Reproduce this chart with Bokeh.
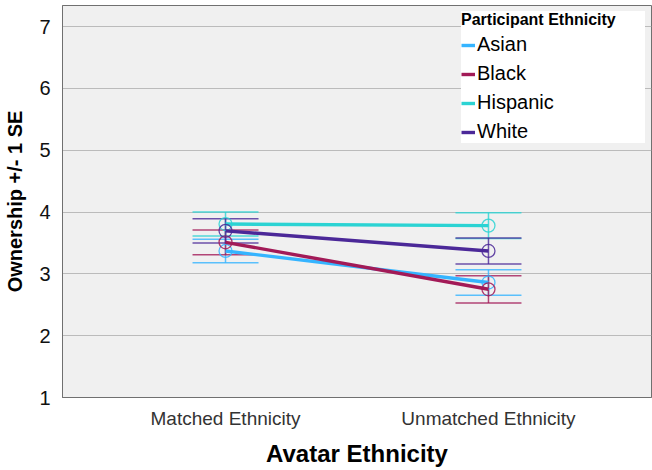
from bokeh.plotting import figure
from bokeh.models import (ColumnDataSource, FactorRange, Range1d, Whisker, TeeHead,
                          Legend, LegendItem, FixedTicker)
from bokeh.embed import file_html
from bokeh.resources import INLINE

# ---- data ----
categories = ["Matched Ethnicity", "Unmatched Ethnicity"]
groups = ["Asian", "Black", "Hispanic", "White"]
asian_mean = [3.37, 2.86]
asian_se = [0.19, 0.205]
black_mean = [3.51, 2.75]
black_se = [0.20, 0.22]
hispanic_mean = [3.805, 3.78]
hispanic_se = [0.195, 0.21]
white_mean = [3.695, 3.37]
white_se = [0.195, 0.21]
y_ticks = [1, 2, 3, 4, 5, 6, 7]

means = {"Asian": asian_mean, "Black": black_mean, "Hispanic": hispanic_mean, "White": white_mean}
ses = {"Asian": asian_se, "Black": black_se, "Hispanic": hispanic_se, "White": white_se}
colors = {"Asian": "#35B4FF", "Black": "#A21A57", "Hispanic": "#2BD3D3", "White": "#4B2898"}

FONT = "Liberation Sans"

p = figure(x_range=FactorRange(factors=categories, range_padding=0.12, range_padding_units="absolute"),
           y_range=Range1d(1, 7.34),
           width=652, height=470, output_backend="svg", toolbar_location=None,
           min_border_left=62, min_border_right=1, min_border_top=5, min_border_bottom=73)

p.background_fill_color = "#F0F0F0"
p.border_fill_color = "white"
p.outline_line_color = "#707070"
p.outline_line_width = 1

p.xgrid.grid_line_color = None
p.ygrid.grid_line_color = "#BBBBBB"
p.ygrid.grid_line_width = 1
p.yaxis.ticker = FixedTicker(ticks=y_ticks)

for ax in (p.xaxis[0], p.yaxis[0]):
    ax.axis_line_color = "#707070"
    ax.major_tick_line_color = None
    ax.minor_tick_line_color = None
    ax.major_label_text_font = FONT
    ax.axis_label_text_font = FONT
    ax.axis_label_text_font_style = "bold"
    ax.axis_label_text_color = "black"

p.yaxis.major_label_text_font_size = "20px"
p.yaxis.major_label_text_color = "#111111"
p.yaxis.major_label_standoff = 6
p.yaxis.axis_label = "Ownership +/- 1 SE"
p.yaxis.axis_label_text_font_size = "20px"
p.yaxis.axis_label_standoff = 10

p.xaxis.major_label_text_font_size = "19px"
p.xaxis.major_label_text_color = "#333333"
p.xaxis.major_label_standoff = 4
p.xaxis.axis_label = "Avatar Ethnicity"
p.xaxis.axis_label_text_font_size = "24px"
p.xaxis.axis_label_standoff = 8

line_renderers = {}
for g in groups:
    m = means[g]
    s = ses[g]
    src = ColumnDataSource(dict(x=categories, y=m,
                                upper=[a + b for a, b in zip(m, s)],
                                lower=[a - b for a, b in zip(m, s)]))
    w = Whisker(base="x", upper="upper", lower="lower", source=src, dimension="height",
                line_color=colors[g], line_width=1.5, line_alpha=0.8,
                upper_head=TeeHead(size=66, line_color=colors[g], line_width=1.5, line_alpha=0.8),
                lower_head=TeeHead(size=66, line_color=colors[g], line_width=1.5, line_alpha=0.8))
    p.add_layout(w)
    line_renderers[g] = (src, m)

for g in groups:
    src, m = line_renderers[g]
    r = p.line("x", "y", source=src, line_color=colors[g], line_width=3.4)
    p.scatter("x", "y", source=src, size=13, marker="circle", fill_color=None,
              line_color=colors[g], line_width=1.3, line_alpha=0.85)
    line_renderers[g] = r

legend = Legend(items=[LegendItem(label=g, renderers=[line_renderers[g]]) for g in groups],
                location="top_right", title="Participant Ethnicity")
legend.title_text_font = FONT
legend.title_text_font_style = "bold"
legend.title_text_font_size = "16px"
legend.title_text_color = "black"
legend.title_standoff = 4
legend.label_text_font = FONT
legend.label_text_font_size = "20px"
legend.label_text_color = "black"
legend.label_standoff = 2
legend.label_width = 168
legend.glyph_width = 14
legend.glyph_height = 20
legend.label_height = 20
legend.spacing = 6
legend.padding = 12
legend.margin = 6
legend.border_line_color = None
legend.background_fill_color = "white"
legend.background_fill_alpha = 1
p.add_layout(legend)

open("out.html", "w").write(file_html(p, INLINE))
